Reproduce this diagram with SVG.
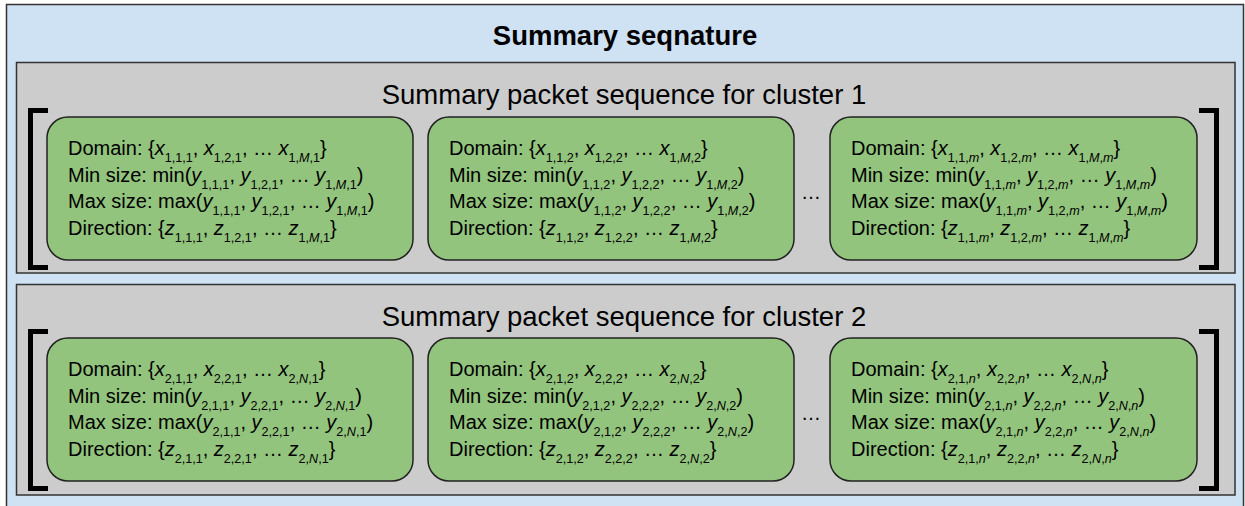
<svg xmlns="http://www.w3.org/2000/svg" width="1245" height="506" viewBox="0 0 1245 506">
<style>
.outer{fill:#cfe2f3;stroke:#333;stroke-width:1.5}
.grey{fill:#cccccc;stroke:#333;stroke-width:1.5}
.card{fill:#93c47d;stroke:#222;stroke-width:1.5}
.br{fill:none;stroke:#000;stroke-width:5}
.title{font-family:"Liberation Sans",Arial,sans-serif;font-size:27.5px;font-weight:bold;fill:#000;text-anchor:middle}
.sub{font-family:"Liberation Sans",Arial,sans-serif;font-size:27.5px;fill:#000;text-anchor:middle}
.t{font-family:"Liberation Sans",Arial,sans-serif;font-size:20px;fill:#000}
.s{font-size:12.6px}
.i{font-style:italic}
.dots{font-family:"Liberation Sans",Arial,sans-serif;font-size:20px;fill:#000;text-anchor:middle}
</style>
<g id="signature">
<rect class="outer" x="6.5" y="4.5" width="1237" height="520"/>
<text class="title" x="625" y="45">Summary seqnature</text>
</g>
<g id="cluster1">
<rect class="grey" x="16.5" y="62.5" width="1218.5" height="210.5"/>
<text class="sub" x="624" y="104">Summary packet sequence for cluster 1</text>
</g>
<g id="cluster2">
<rect class="grey" x="16.5" y="284.5" width="1218.5" height="210.5"/>
<text class="sub" x="624" y="326">Summary packet sequence for cluster 2</text>
</g>
<g id="brackets">
<path class="br" d="M48,110.5 H30.5 V267.5 H48"/>
<path class="br" d="M1199,110.5 H1216.5 V267.5 H1199"/>
<path class="br" d="M48,331.5 H30.5 V488.5 H48"/>
<path class="br" d="M1199,331.5 H1216.5 V488.5 H1199"/>
<text class="dots" x="811" y="199">…</text>
<text class="dots" x="811" y="420">…</text>
</g>
<g id="box-1-1">
<rect class="card" x="47" y="117" width="366" height="143" rx="21"/>
<text class="t" x="68" y="155">Domain: {<tspan class="i">x</tspan><tspan class="s" dy="7">1,1,1</tspan><tspan dy="-7">, </tspan><tspan class="i">x</tspan><tspan class="s" dy="7">1,2,1</tspan><tspan dy="-7">, … </tspan><tspan class="i">x</tspan><tspan class="s" dy="7">1,<tspan class="i">M</tspan>,1</tspan><tspan dy="-7">}</tspan></text>
<text class="t" x="68" y="181.5">Min size: min(<tspan class="i">y</tspan><tspan class="s" dy="7">1,1,1</tspan><tspan dy="-7">, </tspan><tspan class="i">y</tspan><tspan class="s" dy="7">1,2,1</tspan><tspan dy="-7">, … </tspan><tspan class="i">y</tspan><tspan class="s" dy="7">1,<tspan class="i">M</tspan>,1</tspan><tspan dy="-7">)</tspan></text>
<text class="t" x="68" y="208">Max size: max(<tspan class="i">y</tspan><tspan class="s" dy="7">1,1,1</tspan><tspan dy="-7">, </tspan><tspan class="i">y</tspan><tspan class="s" dy="7">1,2,1</tspan><tspan dy="-7">, … </tspan><tspan class="i">y</tspan><tspan class="s" dy="7">1,<tspan class="i">M</tspan>,1</tspan><tspan dy="-7">)</tspan></text>
<text class="t" x="68" y="234.5">Direction: {<tspan class="i">z</tspan><tspan class="s" dy="7">1,1,1</tspan><tspan dy="-7">, </tspan><tspan class="i">z</tspan><tspan class="s" dy="7">1,2,1</tspan><tspan dy="-7">, … </tspan><tspan class="i">z</tspan><tspan class="s" dy="7">1,<tspan class="i">M</tspan>,1</tspan><tspan dy="-7">}</tspan></text>
</g>
<g id="box-1-2">
<rect class="card" x="428" y="117" width="366" height="143" rx="21"/>
<text class="t" x="449" y="155">Domain: {<tspan class="i">x</tspan><tspan class="s" dy="7">1,1,2</tspan><tspan dy="-7">, </tspan><tspan class="i">x</tspan><tspan class="s" dy="7">1,2,2</tspan><tspan dy="-7">, … </tspan><tspan class="i">x</tspan><tspan class="s" dy="7">1,<tspan class="i">M</tspan>,2</tspan><tspan dy="-7">}</tspan></text>
<text class="t" x="449" y="181.5">Min size: min(<tspan class="i">y</tspan><tspan class="s" dy="7">1,1,2</tspan><tspan dy="-7">, </tspan><tspan class="i">y</tspan><tspan class="s" dy="7">1,2,2</tspan><tspan dy="-7">, … </tspan><tspan class="i">y</tspan><tspan class="s" dy="7">1,<tspan class="i">M</tspan>,2</tspan><tspan dy="-7">)</tspan></text>
<text class="t" x="449" y="208">Max size: max(<tspan class="i">y</tspan><tspan class="s" dy="7">1,1,2</tspan><tspan dy="-7">, </tspan><tspan class="i">y</tspan><tspan class="s" dy="7">1,2,2</tspan><tspan dy="-7">, … </tspan><tspan class="i">y</tspan><tspan class="s" dy="7">1,<tspan class="i">M</tspan>,2</tspan><tspan dy="-7">)</tspan></text>
<text class="t" x="449" y="234.5">Direction: {<tspan class="i">z</tspan><tspan class="s" dy="7">1,1,2</tspan><tspan dy="-7">, </tspan><tspan class="i">z</tspan><tspan class="s" dy="7">1,2,2</tspan><tspan dy="-7">, … </tspan><tspan class="i">z</tspan><tspan class="s" dy="7">1,<tspan class="i">M</tspan>,2</tspan><tspan dy="-7">}</tspan></text>
</g>
<g id="box-1-m">
<rect class="card" x="830" y="117" width="367" height="143" rx="21"/>
<text class="t" x="851" y="155">Domain: {<tspan class="i">x</tspan><tspan class="s" dy="7">1,1,<tspan class="i">m</tspan></tspan><tspan dy="-7">, </tspan><tspan class="i">x</tspan><tspan class="s" dy="7">1,2,<tspan class="i">m</tspan></tspan><tspan dy="-7">, … </tspan><tspan class="i">x</tspan><tspan class="s" dy="7">1,<tspan class="i">M</tspan>,<tspan class="i">m</tspan></tspan><tspan dy="-7">}</tspan></text>
<text class="t" x="851" y="181.5">Min size: min(<tspan class="i">y</tspan><tspan class="s" dy="7">1,1,<tspan class="i">m</tspan></tspan><tspan dy="-7">, </tspan><tspan class="i">y</tspan><tspan class="s" dy="7">1,2,<tspan class="i">m</tspan></tspan><tspan dy="-7">, … </tspan><tspan class="i">y</tspan><tspan class="s" dy="7">1,<tspan class="i">M</tspan>,<tspan class="i">m</tspan></tspan><tspan dy="-7">)</tspan></text>
<text class="t" x="851" y="208">Max size: max(<tspan class="i">y</tspan><tspan class="s" dy="7">1,1,<tspan class="i">m</tspan></tspan><tspan dy="-7">, </tspan><tspan class="i">y</tspan><tspan class="s" dy="7">1,2,<tspan class="i">m</tspan></tspan><tspan dy="-7">, … </tspan><tspan class="i">y</tspan><tspan class="s" dy="7">1,<tspan class="i">M</tspan>,<tspan class="i">m</tspan></tspan><tspan dy="-7">)</tspan></text>
<text class="t" x="851" y="234.5">Direction: {<tspan class="i">z</tspan><tspan class="s" dy="7">1,1,<tspan class="i">m</tspan></tspan><tspan dy="-7">, </tspan><tspan class="i">z</tspan><tspan class="s" dy="7">1,2,<tspan class="i">m</tspan></tspan><tspan dy="-7">, … </tspan><tspan class="i">z</tspan><tspan class="s" dy="7">1,<tspan class="i">M</tspan>,<tspan class="i">m</tspan></tspan><tspan dy="-7">}</tspan></text>
</g>
<g id="box-2-1">
<rect class="card" x="47" y="338" width="366" height="143" rx="21"/>
<text class="t" x="68" y="376">Domain: {<tspan class="i">x</tspan><tspan class="s" dy="7">2,1,1</tspan><tspan dy="-7">, </tspan><tspan class="i">x</tspan><tspan class="s" dy="7">2,2,1</tspan><tspan dy="-7">, … </tspan><tspan class="i">x</tspan><tspan class="s" dy="7">2,<tspan class="i">N</tspan>,1</tspan><tspan dy="-7">}</tspan></text>
<text class="t" x="68" y="402.5">Min size: min(<tspan class="i">y</tspan><tspan class="s" dy="7">2,1,1</tspan><tspan dy="-7">, </tspan><tspan class="i">y</tspan><tspan class="s" dy="7">2,2,1</tspan><tspan dy="-7">, … </tspan><tspan class="i">y</tspan><tspan class="s" dy="7">2,<tspan class="i">N</tspan>,1</tspan><tspan dy="-7">)</tspan></text>
<text class="t" x="68" y="429">Max size: max(<tspan class="i">y</tspan><tspan class="s" dy="7">2,1,1</tspan><tspan dy="-7">, </tspan><tspan class="i">y</tspan><tspan class="s" dy="7">2,2,1</tspan><tspan dy="-7">, … </tspan><tspan class="i">y</tspan><tspan class="s" dy="7">2,<tspan class="i">N</tspan>,1</tspan><tspan dy="-7">)</tspan></text>
<text class="t" x="68" y="455.5">Direction: {<tspan class="i">z</tspan><tspan class="s" dy="7">2,1,1</tspan><tspan dy="-7">, </tspan><tspan class="i">z</tspan><tspan class="s" dy="7">2,2,1</tspan><tspan dy="-7">, … </tspan><tspan class="i">z</tspan><tspan class="s" dy="7">2,<tspan class="i">N</tspan>,1</tspan><tspan dy="-7">}</tspan></text>
</g>
<g id="box-2-2">
<rect class="card" x="428" y="338" width="366" height="143" rx="21"/>
<text class="t" x="449" y="376">Domain: {<tspan class="i">x</tspan><tspan class="s" dy="7">2,1,2</tspan><tspan dy="-7">, </tspan><tspan class="i">x</tspan><tspan class="s" dy="7">2,2,2</tspan><tspan dy="-7">, … </tspan><tspan class="i">x</tspan><tspan class="s" dy="7">2,<tspan class="i">N</tspan>,2</tspan><tspan dy="-7">}</tspan></text>
<text class="t" x="449" y="402.5">Min size: min(<tspan class="i">y</tspan><tspan class="s" dy="7">2,1,2</tspan><tspan dy="-7">, </tspan><tspan class="i">y</tspan><tspan class="s" dy="7">2,2,2</tspan><tspan dy="-7">, … </tspan><tspan class="i">y</tspan><tspan class="s" dy="7">2,<tspan class="i">N</tspan>,2</tspan><tspan dy="-7">)</tspan></text>
<text class="t" x="449" y="429">Max size: max(<tspan class="i">y</tspan><tspan class="s" dy="7">2,1,2</tspan><tspan dy="-7">, </tspan><tspan class="i">y</tspan><tspan class="s" dy="7">2,2,2</tspan><tspan dy="-7">, … </tspan><tspan class="i">y</tspan><tspan class="s" dy="7">2,<tspan class="i">N</tspan>,2</tspan><tspan dy="-7">)</tspan></text>
<text class="t" x="449" y="455.5">Direction: {<tspan class="i">z</tspan><tspan class="s" dy="7">2,1,2</tspan><tspan dy="-7">, </tspan><tspan class="i">z</tspan><tspan class="s" dy="7">2,2,2</tspan><tspan dy="-7">, … </tspan><tspan class="i">z</tspan><tspan class="s" dy="7">2,<tspan class="i">N</tspan>,2</tspan><tspan dy="-7">}</tspan></text>
</g>
<g id="box-2-n">
<rect class="card" x="830" y="338" width="367" height="143" rx="21"/>
<text class="t" x="851" y="376">Domain: {<tspan class="i">x</tspan><tspan class="s" dy="7">2,1,<tspan class="i">n</tspan></tspan><tspan dy="-7">, </tspan><tspan class="i">x</tspan><tspan class="s" dy="7">2,2,<tspan class="i">n</tspan></tspan><tspan dy="-7">, … </tspan><tspan class="i">x</tspan><tspan class="s" dy="7">2,<tspan class="i">N</tspan>,<tspan class="i">n</tspan></tspan><tspan dy="-7">}</tspan></text>
<text class="t" x="851" y="402.5">Min size: min(<tspan class="i">y</tspan><tspan class="s" dy="7">2,1,<tspan class="i">n</tspan></tspan><tspan dy="-7">, </tspan><tspan class="i">y</tspan><tspan class="s" dy="7">2,2,<tspan class="i">n</tspan></tspan><tspan dy="-7">, … </tspan><tspan class="i">y</tspan><tspan class="s" dy="7">2,<tspan class="i">N</tspan>,<tspan class="i">n</tspan></tspan><tspan dy="-7">)</tspan></text>
<text class="t" x="851" y="429">Max size: max(<tspan class="i">y</tspan><tspan class="s" dy="7">2,1,<tspan class="i">n</tspan></tspan><tspan dy="-7">, </tspan><tspan class="i">y</tspan><tspan class="s" dy="7">2,2,<tspan class="i">n</tspan></tspan><tspan dy="-7">, … </tspan><tspan class="i">y</tspan><tspan class="s" dy="7">2,<tspan class="i">N</tspan>,<tspan class="i">n</tspan></tspan><tspan dy="-7">)</tspan></text>
<text class="t" x="851" y="455.5">Direction: {<tspan class="i">z</tspan><tspan class="s" dy="7">2,1,<tspan class="i">n</tspan></tspan><tspan dy="-7">, </tspan><tspan class="i">z</tspan><tspan class="s" dy="7">2,2,<tspan class="i">n</tspan></tspan><tspan dy="-7">, … </tspan><tspan class="i">z</tspan><tspan class="s" dy="7">2,<tspan class="i">N</tspan>,<tspan class="i">n</tspan></tspan><tspan dy="-7">}</tspan></text>
</g>
</svg>
